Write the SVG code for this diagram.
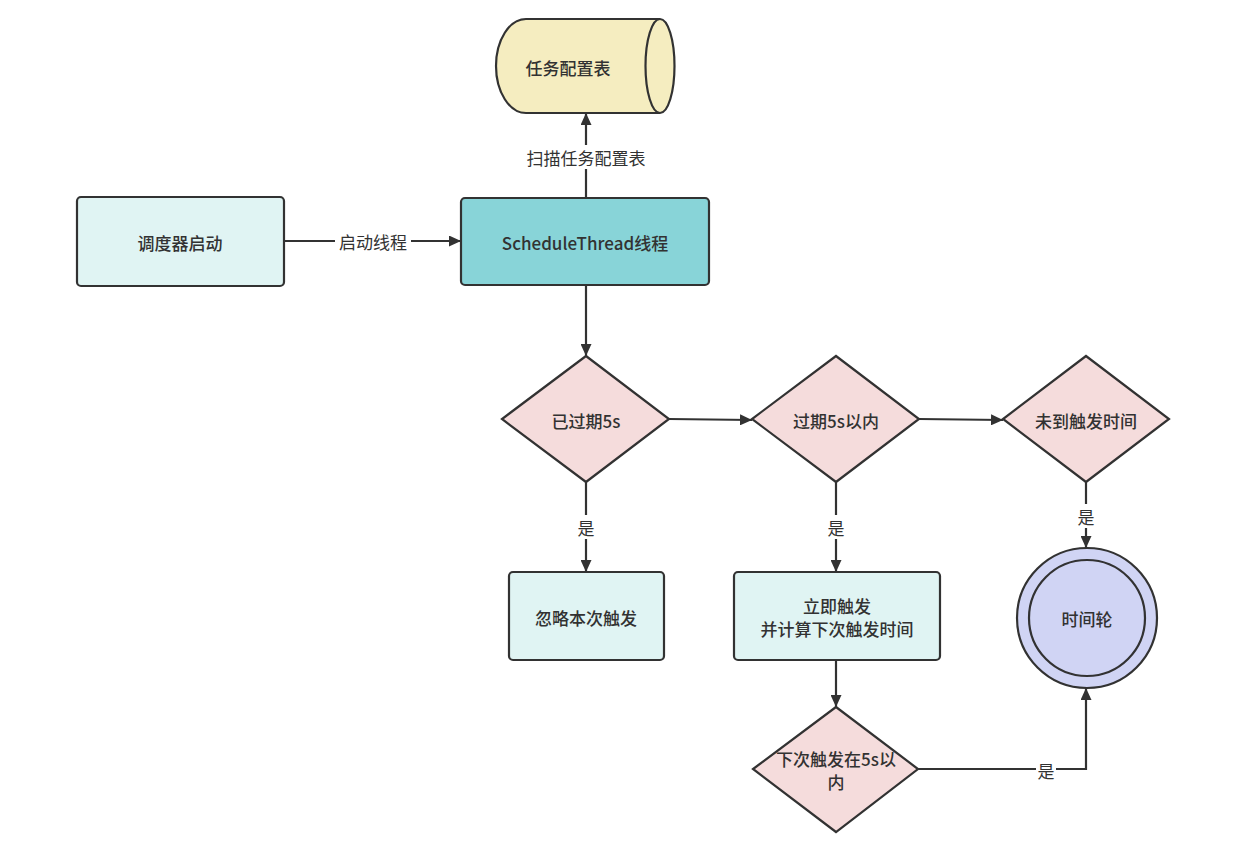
<svg xmlns="http://www.w3.org/2000/svg" width="1240" height="842" viewBox="0 0 1240 842">
<defs>
<marker id="arr" viewBox="0 0 12 11" refX="12" refY="5.5" markerWidth="12" markerHeight="11" markerUnits="userSpaceOnUse" orient="auto">
<path d="M0,0 L12,5.5 L0,11 z" fill="#323232"/>
</marker>
<style>
.n{stroke:#323232;stroke-width:2.2}
.box{fill:#e0f4f3}
.dia{fill:#f5dcdc}
.t{font-family:"Noto Sans CJK SC","Liberation Sans",sans-serif;font-size:17px;font-weight:500;fill:#323232;text-anchor:middle;dominant-baseline:central}
.l{font-family:"Noto Sans CJK SC","Liberation Sans",sans-serif;font-size:17px;fill:#323232;text-anchor:middle;dominant-baseline:central}
.c{fill:none;stroke:#323232;stroke-width:2.2}
.lb{fill:#ffffff}
</style>
</defs>
<rect width="1240" height="842" fill="#ffffff"/>
<g id="connectors">
<path class="c" d="M586,198 V113" marker-end="url(#arr)"/>
<path class="c" d="M284,241 H461" marker-end="url(#arr)"/>
<path class="c" d="M586,285 V356" marker-end="url(#arr)"/>
<path class="c" d="M669,419 L752,420" marker-end="url(#arr)"/>
<path class="c" d="M919,419 L1003,420" marker-end="url(#arr)"/>
<path class="c" d="M586,482 V572" marker-end="url(#arr)"/>
<path class="c" d="M836,482 V572" marker-end="url(#arr)"/>
<path class="c" d="M1086,482 V548" marker-end="url(#arr)"/>
<path class="c" d="M836,660 V707" marker-end="url(#arr)"/>
<path class="c" d="M918,769 H1086 V688" marker-end="url(#arr)"/>
<rect class="lb" x="524" y="145" width="124" height="24"/>
<text class="l" x="586" y="157">扫描任务配置表</text>
<rect class="lb" x="335" y="229" width="76" height="24"/>
<text class="l" x="373" y="241">启动线程</text>
<rect class="lb" x="576" y="515" width="20" height="24"/>
<text class="l" x="586" y="527">是</text>
<rect class="lb" x="826" y="515" width="20" height="24"/>
<text class="l" x="836" y="527">是</text>
<rect class="lb" x="1076" y="504" width="20" height="24"/>
<text class="l" x="1086" y="516">是</text>
<rect class="lb" x="1036" y="758" width="20" height="24"/>
<text class="l" x="1046" y="770">是</text>
</g>
<g id="task-table">
<path class="n" d="M660,19 H526 A30,47 0 0 0 526,113 H660" fill="#f5edc0"/>
<ellipse class="n" cx="660" cy="66" rx="14.5" ry="47" fill="#f5edc0"/>
<text class="t" x="568" y="67">任务配置表</text>
</g>
<g id="scheduler-start">
<rect class="n box" x="77" y="197" width="207" height="89" rx="4"/>
<text class="t" x="180" y="242">调度器启动</text>
</g>
<g id="schedule-thread">
<rect class="n" x="461" y="198" width="248" height="87" rx="4" fill="#88d4d8"/>
<text class="t" x="585" y="242">ScheduleThread线程</text>
</g>
<g id="expired-5s">
<polygon class="n dia" points="586,356 669,419 586,482 502,419"/>
<text class="t" x="586" y="420">已过期5s</text>
</g>
<g id="within-5s">
<polygon class="n dia" points="836,356 919,419 836,482 752,419"/>
<text class="t" x="836" y="420">过期5s以内</text>
</g>
<g id="not-yet">
<polygon class="n dia" points="1086,356 1169,419 1086,482 1003,419"/>
<text class="t" x="1086" y="420">未到触发时间</text>
</g>
<g id="ignore">
<rect class="n box" x="509" y="572" width="155" height="88" rx="4"/>
<text class="t" x="586" y="617">忽略本次触发</text>
</g>
<g id="trigger-now">
<rect class="n box" x="734" y="572" width="206" height="88" rx="4"/>
<text class="t" x="837" y="605">立即触发</text>
<text class="t" x="837" y="628">并计算下次触发时间</text>
</g>
<g id="next-within-5s">
<polygon class="n dia" points="836,707 918,769 836,832 753,769"/>
<text class="t" x="836" y="758">下次触发在5s以</text>
<text class="t" x="836" y="781">内</text>
</g>
<g id="time-wheel">
<circle class="n" cx="1087" cy="618" r="70" fill="#d0d4f4"/>
<circle class="n" cx="1087" cy="618" r="58" fill="#d0d4f4"/>
<text class="t" x="1087" y="618">时间轮</text>
</g>
</svg>
